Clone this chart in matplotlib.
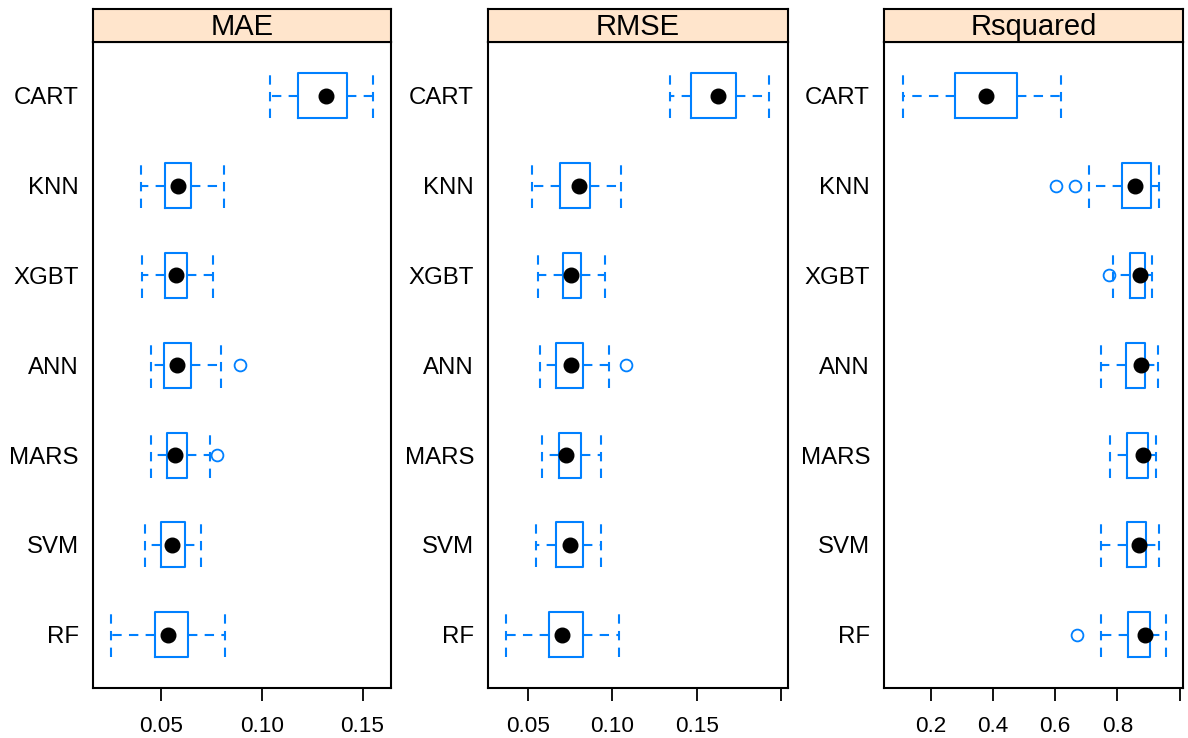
import matplotlib
matplotlib.use("Agg")
import matplotlib.pyplot as plt

plt.rcParams['font.family'] = ['Liberation Sans', 'DejaVu Sans']

# Models, top to bottom
models = ["CART", "KNN", "XGBT", "ANN", "MARS", "SVM", "RF"]
metrics = ["MAE", "RMSE", "Rsquared"]

# five-number summaries: (whisker low, Q1, median, Q3, whisker high)
mae = [
    (0.1041, 0.1181, 0.1318, 0.1421, 0.1550),
    (0.0401, 0.0518, 0.0586, 0.0649, 0.0813),
    (0.0406, 0.0518, 0.0576, 0.0629, 0.0758),
    (0.0449, 0.0513, 0.0578, 0.0647, 0.0799),
    (0.0449, 0.0531, 0.0568, 0.0629, 0.0743),
    (0.0421, 0.0499, 0.0556, 0.0618, 0.0698),
    (0.0252, 0.0472, 0.0533, 0.0635, 0.0817),
]
mae_out = [[], [], [], [0.0892], [0.0778], [], []]

rmse = [
    (0.1340, 0.1466, 0.1624, 0.1731, 0.1928),
    (0.0527, 0.0691, 0.0802, 0.0870, 0.1054),
    (0.0559, 0.0709, 0.0758, 0.0815, 0.0956),
    (0.0571, 0.0667, 0.0754, 0.0825, 0.0979),
    (0.0583, 0.0685, 0.0727, 0.0815, 0.0934),
    (0.0549, 0.0667, 0.0749, 0.0825, 0.0934),
    (0.0373, 0.0628, 0.0705, 0.0825, 0.1040),
]
rmse_out = [[], [], [], [0.1083], [], [], []]

rsq = [
    (0.110, 0.277, 0.379, 0.477, 0.619),
    (0.710, 0.814, 0.857, 0.907, 0.935),
    (0.785, 0.841, 0.872, 0.888, 0.911),
    (0.747, 0.828, 0.875, 0.888, 0.930),
    (0.777, 0.832, 0.883, 0.899, 0.925),
    (0.747, 0.830, 0.869, 0.893, 0.934),
    (0.747, 0.835, 0.888, 0.904, 0.955),
]
rsq_out = [[], [0.604, 0.664], [0.772], [], [], [], [0.670]]

xlims = [(0.0161, 0.1641), (0.0265, 0.2038), (0.0498, 1.011)]
xticks = [[0.05, 0.10, 0.15], [0.05, 0.10, 0.15, 0.20], [0.2, 0.4, 0.6, 0.8, 1.0]]
xticklabels = [["0.05", "0.10", "0.15"], ["0.05", "0.10", "0.15", ""],
               ["0.2", "0.4", "0.6", "0.8", ""]]

data = [(mae, mae_out), (rmse, rmse_out), (rsq, rsq_out)]

W, H = 1188, 738
fig = plt.figure(figsize=(W / 100, H / 100), dpi=100)
fig.patch.set_facecolor("white")

panel_x = [(92.7, 391.0), (488.0, 787.7), (884.0, 1183.0)]
p_top, p_bot = 42.0, 687.5
s_top = 8.7

blue = "#0080FF"
dash = (0, (4.5, 3.5))
for i, metric in enumerate(metrics):
    x0, x1 = panel_x[i]
    ax = fig.add_axes([x0 / W, (H - p_bot) / H, (x1 - x0) / W, (p_bot - p_top) / H])
    sax = fig.add_axes([x0 / W, (H - p_top) / H, (x1 - x0) / W, (p_top - s_top) / H])
    sax.set_facecolor("#FFE5CC")
    sax.set_xticks([]); sax.set_yticks([])
    for sp in sax.spines.values():
        sp.set_linewidth(1.5)
    sax.text(0.5, 0.44, metric, ha="center", va="center", fontsize=21,
             transform=sax.transAxes)

    summ, outs = data[i]
    n = len(models)
    positions = [n - k for k in range(n)]
    stats = []
    for k, (lo, q1, med, q3, hi) in enumerate(summ):
        stats.append(dict(whislo=lo, q1=q1, med=med, q3=q3, whishi=hi,
                          fliers=outs[k], label=models[k]))
    ax.bxp(stats, positions=positions, orientation="horizontal", widths=0.5,
           capwidths=0.5, showfliers=True,
           boxprops=dict(color=blue, linewidth=1.5),
           whiskerprops=dict(color=blue, linewidth=1.5, linestyle=dash),
           capprops=dict(color=blue, linewidth=1.5, linestyle=dash),
           medianprops=dict(visible=False),
           flierprops=dict(marker="o", markerfacecolor="none", markeredgecolor=blue,
                           markersize=8.5, markeredgewidth=1.3))
    meds = [s[2] for s in summ]
    ax.plot(meds, positions, linestyle="none", marker="o", color="black",
            markersize=10.5, zorder=5)

    ax.set_xlim(*xlims[i])
    ax.set_ylim(0.413, 7.598)
    ax.set_yticks(positions)
    ax.set_yticklabels(models, fontsize=17.3)
    ax.tick_params(axis="y", length=0, pad=10)
    ax.set_xticks(xticks[i])
    ax.set_xticklabels(xticklabels[i], fontsize=16.2)
    ax.tick_params(axis="x", length=9.5, width=1.3, pad=11)
    for sp in ax.spines.values():
        sp.set_linewidth(1.5)

fig.savefig("out.png", dpi=100, facecolor="white")
